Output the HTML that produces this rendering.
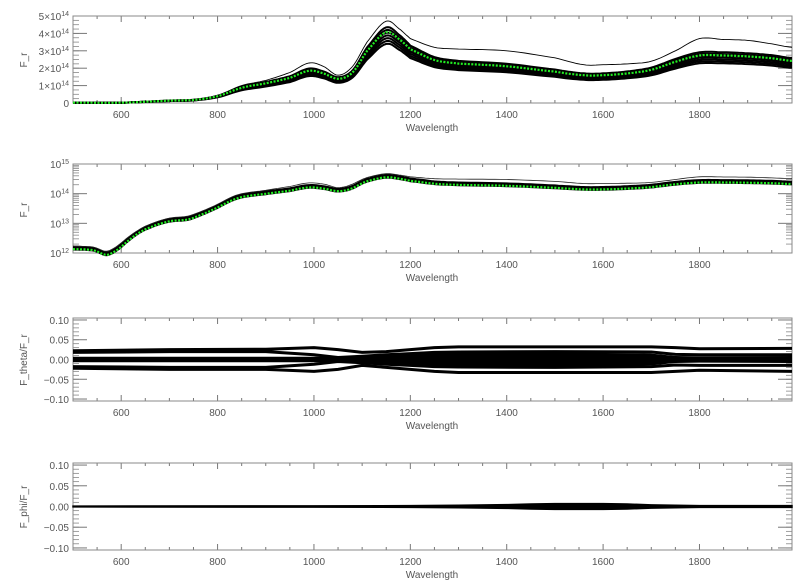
<!DOCTYPE html>
<html><head><meta charset="utf-8"><style>
body{margin:0;background:#fff}
svg{display:block;font-family:"Liberation Sans",sans-serif}
text{fill:#555;font-size:10px}
</style></head><body>
<svg id="c" width="809" height="588" viewBox="0 0 809 588"></svg>
<script>
// ---- data ----
const wl = [500,540,575,610,650,700,750,800,850,900,950,990,1020,1050,1080,1110,1150,1180,1200,1250,1300,1400,1500,1560,1600,1650,1700,1750,1800,1850,1900,1950,1992];
const fluxMid = [0.015,0.014,0.01,0.025,0.07,0.13,0.17,0.38,0.85,1.1,1.4,1.8,1.65,1.35,1.7,2.9,3.95,3.5,3.0,2.4,2.2,2.05,1.75,1.55,1.55,1.65,1.85,2.3,2.65,2.65,2.6,2.5,2.35];
const fluxTop = [0.017,0.016,0.012,0.03,0.08,0.15,0.2,0.44,1.0,1.3,1.75,2.3,2.1,1.6,2.1,3.5,4.7,4.2,3.7,3.2,3.1,3.0,2.6,2.2,2.2,2.25,2.4,3.0,3.7,3.65,3.6,3.4,3.2];
const bandScales = [0.86,0.9,0.94,0.98,1.02,1.06,1.1];
const greenScale = 1.03;
const wl3 = [500,700,900,1000,1050,1100,1150,1200,1250,1300,1500,1700,1750,1800,1992];
const ratUpOuter = [0.022,0.025,0.026,0.03,0.025,0.018,0.02,0.025,0.03,0.032,0.032,0.032,0.03,0.027,0.028];
const ratLoOuter = [-0.022,-0.025,-0.025,-0.03,-0.025,-0.015,-0.02,-0.025,-0.03,-0.033,-0.033,-0.033,-0.03,-0.027,-0.03];
const ratUpInner = [0.018,0.02,0.02,0.012,0.005,0.008,0.012,0.015,0.018,0.019,0.02,0.019,0.013,0.012,0.012];
const ratLoInner = [-0.018,-0.02,-0.02,-0.012,-0.005,-0.008,-0.012,-0.015,-0.018,-0.019,-0.02,-0.018,-0.014,-0.015,-0.015];
const ratCenterHalf = [0.007,0.007,0.007,0.007,0.008,0.009,0.01,0.013,0.016,0.017,0.018,0.015,0.009,0.008,0.009];
const wl4 = [500,1000,1200,1300,1400,1450,1500,1600,1650,1700,1800,1992];
const phiHalf = [0.001,0.0015,0.002,0.003,0.0045,0.006,0.007,0.007,0.006,0.004,0.002,0.002];
const xTicks = [600,800,1000,1200,1400,1600,1800];
const linTicks = [0,1,2,3,4,5];
const logTicks = [12,13,14,15];
const ratTicks = [0.10,0.05,0.00,-0.05,-0.10];

const NS="http://www.w3.org/2000/svg", svg=document.getElementById('c');
function el(t,a,p){const e=document.createElementNS(NS,t);for(const k in a)e.setAttribute(k,a[k]);(p||svg).appendChild(e);return e;}
const X0=73,X1=792,WMIN=500,WMAX=1992;
const xs=w=>X0+(w-WMIN)/(WMAX-WMIN)*(X1-X0);

function panel(name,top,bot,ymin,ymax,ylabel,labelY,tickVals,tickFmt,minorVals){
  const g=el('g',{});
  
  
  const ys=v=>bot-(v-ymin)/(ymax-ymin)*(bot-top);
  for(let w=550;w<WMAX;w+=50){const major=w%200==0;const L=major?6:3;
    el('line',{x1:xs(w),x2:xs(w),y1:bot,y2:bot-L,stroke:'#777','stroke-width':1},g);
    el('line',{x1:xs(w),x2:xs(w),y1:top,y2:top+L,stroke:'#777','stroke-width':1},g);}
  xTicks.forEach(w=>{const t=el('text',{x:xs(w),y:bot+15,'text-anchor':'middle'},g);t.textContent=w;
    });
  const xt=el('text',{x:432,y:bot+28,'text-anchor':'middle'},g);xt.textContent='Wavelength';
  
  minorVals.forEach(v=>{const y=ys(v);
    el('line',{x1:X0,x2:X0+6,y1:y,y2:y,stroke:'#888','stroke-width':0.8},g);
    el('line',{x1:X1,x2:X1-6,y1:y,y2:y,stroke:'#888','stroke-width':0.8},g);});
  tickVals.forEach(v=>{const y=ys(v);
    el('line',{x1:X0,x2:X0+14,y1:y,y2:y,stroke:'#777','stroke-width':1},g);
    el('line',{x1:X1,x2:X1-14,y1:y,y2:y,stroke:'#777','stroke-width':1},g);
    const t=el('text',{x:X0-4,y:y+4,'text-anchor':'end'},g);t.innerHTML=tickFmt(v);
    });
  const yt=el('text',{x:0,y:0,'text-anchor':'middle',transform:`translate(27,${labelY}) rotate(-90)`},g);yt.textContent=ylabel;
  
  el('rect',{x:X0,y:top,width:X1-X0,height:bot-top,fill:'none',stroke:'#888','stroke-width':1},g);
  return {g,ys};
}
function path(ws,vals,ys,attrs,parent){
  const d=ws.map((w,i)=>(i?'L':'M')+xs(w).toFixed(1)+','+ys(vals[i]).toFixed(1)).join('');
  return el('path',Object.assign({d,fill:'none'},attrs),parent);
}
function smooth(ws,vals){
  const ow=[],ov=[];
  for(let i=0;i<ws.length-1;i++){const v0=vals[Math.max(i-1,0)],v1=vals[i],v2=vals[i+1],v3=vals[Math.min(i+2,vals.length-1)];
    for(let s=0;s<8;s++){const t=s/8,t2=t*t,t3=t2*t;
      ow.push(ws[i]+(ws[i+1]-ws[i])*t);
      ov.push(0.5*((2*v1)+(-v0+v2)*t+(2*v0-5*v1+4*v2-v3)*t2+(-v0+3*v1-3*v2+v3)*t3));}}
  ow.push(ws[ws.length-1]);ov.push(vals[vals.length-1]);return [ow,ov];
}
const minorsLin=[];for(let v=0;v<=5.001;v+=0.25)minorsLin.push(v);
const minorsLog=[];for(let d=12;d<15;d++)for(let m=2;m<10;m++)minorsLog.push(d+Math.log10(m));
const minorsRat=[];for(let v=-0.1;v<=0.1001;v+=0.01)minorsRat.push(v);

const p1=panel('panel-flux-linear',16,103,0,5,'F_r',60,linTicks,v=>v==0?'0':v+'×10<tspan dy="-4" font-size="7">14</tspan>',minorsLin);
const [sw,sv]=smooth(wl,fluxMid);
bandScales.forEach(s=>{const p=path(sw,sv.map(v=>v*s),p1.ys,{stroke:'#000','stroke-width':2},p1.g);
  });
const [tw,tv]=smooth(wl,fluxTop);
let p=path(tw,tv,p1.ys,{stroke:'#000','stroke-width':0.9},p1.g);

p=path(sw,sv.map(v=>v*greenScale),p1.ys,{stroke:'#2e2','stroke-width':2.2,'stroke-dasharray':'2 1.5'},p1.g);


const p2=panel('panel-flux-log',164,253,12,15,'F_r',210,logTicks,v=>'10<tspan dy="-4" font-size="7">'+v+'</tspan>',minorsLog);
bandScales.forEach(s=>{const p=path(sw,sv.map(v=>Math.log10(Math.max(v*s,0.005)*1e14)),p2.ys,{stroke:'#000','stroke-width':1.6},p2.g);
  });
p=path(tw,tv.map(v=>Math.log10(Math.max(v,0.005)*1e14)),p2.ys,{stroke:'#222','stroke-width':0.8},p2.g);

p=path(sw,sv.map(v=>Math.log10(Math.max(v*0.9,0.005)*1e14)),p2.ys,{stroke:'#2e2','stroke-width':2.2,'stroke-dasharray':'2 1.5'},p2.g);


const p3=panel('panel-theta-ratio',318,401,-0.105,0.105,'F_theta/F_r',360,ratTicks,v=>v<0?'−'+Math.abs(v).toFixed(2):v.toFixed(2),minorsRat);
[ratUpOuter,ratLoOuter,ratUpInner,ratLoInner].forEach(a=>{const p=path(wl3,a,p3.ys,{stroke:'#000','stroke-width':3},p3.g);
  });
{const d=wl3.map((w,i)=>(i?'L':'M')+xs(w)+','+p3.ys(ratCenterHalf[i])).join('')+wl3.slice().reverse().map((w,j)=>{const i=wl3.length-1-j;return 'L'+xs(w)+','+p3.ys(-ratCenterHalf[i]);}).join('')+'Z';
 const b=el('path',{d,fill:'#000'},p3.g);}

const p4=panel('panel-phi-ratio',463,550,-0.105,0.105,'F_phi/F_r',507,ratTicks,v=>v<0?'−'+Math.abs(v).toFixed(2):v.toFixed(2),minorsRat);
{const d=wl4.map((w,i)=>(i?'L':'M')+xs(w)+','+p4.ys(phiHalf[i])).join('')+wl4.slice().reverse().map((w,j)=>{const i=wl4.length-1-j;return 'L'+xs(w)+','+p4.ys(-phiHalf[i]);}).join('')+'Z';
 const b=el('path',{d,fill:'#000',stroke:'#000','stroke-width':1.5},p4.g);}
</script>
</body></html>
